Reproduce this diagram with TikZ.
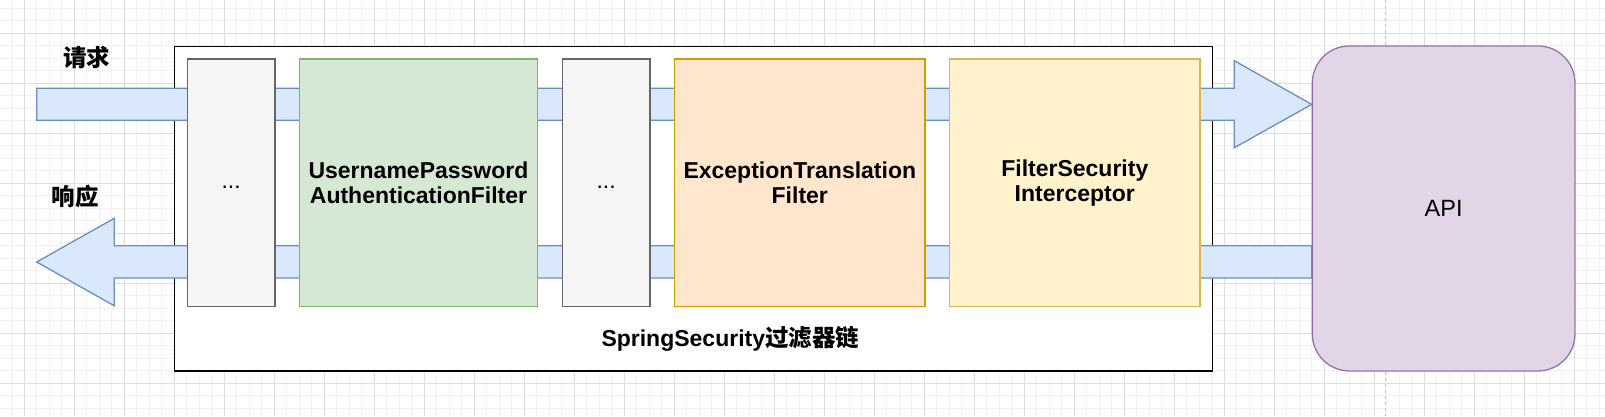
\documentclass[tikz,border=0pt]{standalone}
\usepackage{fontspec}
\setmainfont{Liberation Sans}
\newfontfamily\cjk{Noto Sans CJK SC}
\definecolor{gridminor}{HTML}{F2F2F2}
\definecolor{gridmajor}{HTML}{DDDDDD}
\definecolor{pagebreak}{HTML}{C4C4C4}
\definecolor{grayfill}{HTML}{F5F5F5}
\definecolor{graystroke}{HTML}{666666}
\definecolor{greenfill}{HTML}{D5E8D4}
\definecolor{greenstroke}{HTML}{82B366}
\definecolor{orangefill}{HTML}{FFE6CC}
\definecolor{orangestroke}{HTML}{D79B00}
\definecolor{yellowfill}{HTML}{FFF2CC}
\definecolor{yellowstroke}{HTML}{D6B656}
\definecolor{bluefill}{HTML}{DAE8FC}
\definecolor{bluestroke}{HTML}{6C8EBF}
\definecolor{purplefill}{HTML}{E1D5E7}
\definecolor{purplestroke}{HTML}{9673A6}
\begin{document}
\begin{tikzpicture}[x=1pt,y=-1pt,
  gminor/.style={draw=gridminor, line width=1pt},
  gmajor/.style={draw=gridmajor, line width=1pt},
  chainbox/.style={rectangle, draw=black, fill=white, line width=1.3pt, anchor=north west, inner sep=0pt},
  fbox/.style={rectangle, anchor=north west, inner sep=0pt, line width=1.3pt, minimum height=247.4pt, align=center, font=\bfseries\fontsize{23}{25}\selectfont},
  dotbox/.style={fbox, fill=grayfill, draw=graystroke, minimum width=87.6pt, font=\fontsize{23}{27.6}\selectfont},
  blockarrow/.style={fill=bluefill, draw=bluestroke, line width=1.3pt, line join=miter},
  apibox/.style={rectangle, rounded corners=37pt, fill=purplefill, draw=purplestroke, line width=1.3pt, anchor=north west, inner sep=0pt, font=\fontsize{23.5}{28}\selectfont},
  cjklabel/.style={font=\cjk\bfseries\fontsize{23.5}{28}\selectfont, inner sep=0pt}
]
\useasboundingbox (0,0) rectangle (1605,416);
\fill[white] (0,0) rectangle (1605,416);
% grid
\foreach \i in {0,...,127} \draw[gminor] ({11.8+12.5*\i},0) -- ({11.8+12.5*\i},416);
\foreach \j in {0,...,32} \draw[gminor] (0,{8.3+12.5*\j}) -- (1605,{8.3+12.5*\j});
\foreach \i in {0,...,31} \draw[gmajor] ({24.3+50*\i},0) -- ({24.3+50*\i},416);
\foreach \j in {0,...,7} \draw[gmajor] (0,{33.3+50*\j}) -- (1605,{33.3+50*\j});
% page break line
\draw[pagebreak, line width=1pt, dash pattern=on 3pt off 3pt] (1385.7,0) -- (1385.7,416);

% outer chain box
\node[chainbox, minimum width=1037.5pt, minimum height=324.8pt] (chain) at (174,45.5) {};

% request arrow
\draw[blockarrow] (36.7,88.3) -- (1234.3,88.3) -- (1234.3,60.7) -- (1311.7,104.4)
  -- (1234.3,147.7) -- (1234.3,120.3) -- (36.7,120.3) -- cycle;
% response arrow
\draw[blockarrow] (1311.7,245.7) -- (114.3,245.7) -- (114.3,218.3) -- (36.7,262)
  -- (114.3,305.8) -- (114.3,278) -- (1311.7,278) -- cycle;

% API box
\node[apibox, minimum width=262.6pt, minimum height=325pt] (api) at (1311.7,45.3) {API};

% filters
\node[dotbox] (f1) at (186.7,58.3) {\strut...};
\node[fbox, fill=greenfill, draw=greenstroke, minimum width=237.7pt] (f2) at (299,58.3)
  {UsernamePassword\\AuthenticationFilter};
\node[dotbox] (f3) at (561.7,58.3) {\strut...};
\node[fbox, fill=orangefill, draw=orangestroke, minimum width=250.3pt] (f4) at (674,58.3)
  {ExceptionTranslation\\Filter};
\node[fbox, fill=yellowfill, draw=yellowstroke, minimum width=250.3pt] (f5) at (949,58.3)
  {FilterSecurity\\Interceptor};

% labels
\node[cjklabel] (req) at (86.7,57.5) {请求};
\node[cjklabel] (resp) at (75,196.7) {响应};
\node[anchor=base, inner sep=0pt, font=\bfseries\fontsize{23}{28}\selectfont] (chainlabel) at (730.3,346.7)
  {SpringSecurity{\cjk\bfseries\fontsize{23.5}{28}\selectfont 过滤器链}};
\end{tikzpicture}
\end{document}
